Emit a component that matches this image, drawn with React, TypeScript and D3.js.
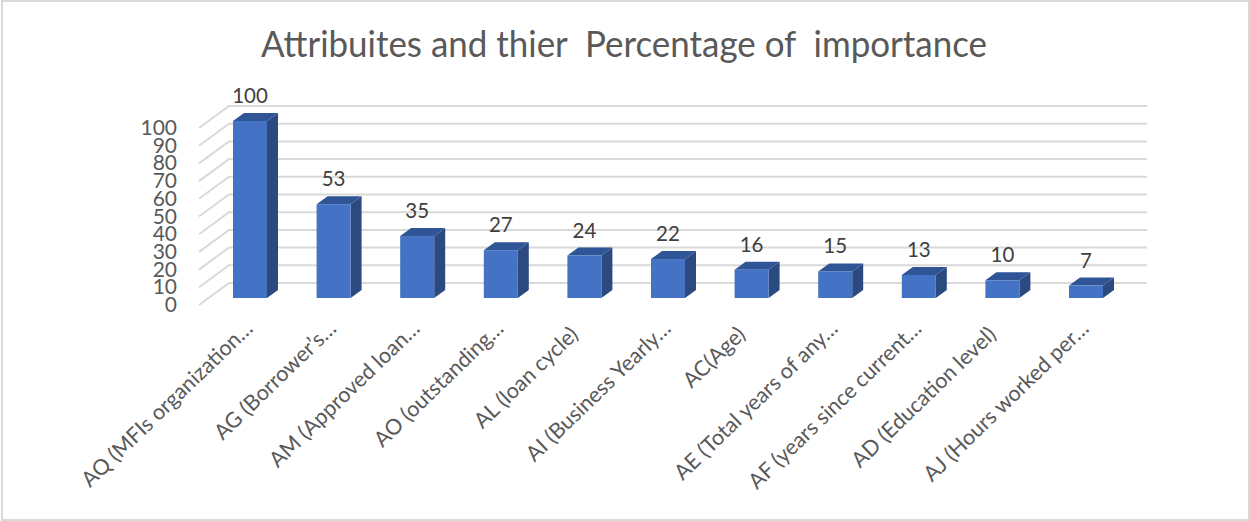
import React from "react";
import * as d3 from "d3";

const categories = [
  "AQ (MFIs organization…",
  "AG (Borrower’s…",
  "AM (Approved loan…",
  "AO (outstanding…",
  "AL (loan cycle)",
  "AI (Business Yearly…",
  "AC(Age)",
  "AE (Total years of any…",
  "AF (years since current…",
  "AD (Education level)",
  "AJ (Hours worked per…",
];
const importance = [100, 53, 35, 27, 24, 22, 16, 15, 13, 10, 7];
const yTicks = [0, 10, 20, 30, 40, 50, 60, 70, 80, 90, 100];
const chartTitle = "Attribuites and thier  Percentage of  importance";

const FONT = "Lato, 'Open Sans', sans-serif";
const TEXT = "#595959";

export default function App() {
  // Front edge of the floor and the depth offset of the back wall.
  const y = d3.scaleLinear().domain([0, 100]).range([305, 128]);
  const wallDx = 30;
  const wallDy = -22;
  const wallLeft = 199;
  const wallRight = 1147;

  // Bars stand inside the floor, so their base sits behind the axis front.
  const x = d3.scalePoint<string>().domain(categories).range([250, 1086]);
  const barW = 34;
  const baseOffset = -7;
  const barDx = 11;
  const barDy = -8;

  return (
    <svg
      width={1250}
      height={521}
      style={{ position: "absolute", left: 0, top: 0, background: "#fff" }}
      fontFamily={FONT}
    >
      <rect x={2} y={1} width={1247} height={519} fill="#fff" stroke="#d9d9d9" strokeWidth={2} />
      <text
        x={624}
        y={57}
        textAnchor="middle"
        fontSize={36}
        fill={TEXT}
        xmlSpace="preserve"
        textLength={726}
        lengthAdjust="spacingAndGlyphs"
      >
        {chartTitle}
      </text>

      {yTicks.map((t) => (
        <polyline
          key={t}
          points={`${wallLeft},${y(t)} ${wallLeft + wallDx},${y(t) + wallDy} ${wallRight},${y(t) + wallDy}`}
          stroke="#d9d9d9"
          strokeWidth={2}
          fill="none"
        />
      ))}
      {yTicks.map((t) => (
        <text key={t} x={177} y={y(t) + 7} textAnchor="end" fontSize={21} fill={TEXT}>
          {t}
        </text>
      ))}

      {categories.map((c, i) => {
        const cx = x(c) as number;
        const x0 = cx - barW / 2;
        const x1 = cx + barW / 2;
        const base = y(0) + baseOffset;
        const top = y(importance[i]) + baseOffset;
        // Shortened labels end on the ellipsis, which sits lower than a closing bracket.
        const shortened = c.endsWith("…");
        const labelX = shortened ? cx + 4 : cx - 5;
        const labelY = shortened ? 330 : 336;
        return (
          <g key={c}>
            <path
              d={`M${x1},${top}L${x1 + barDx},${top + barDy}L${x1 + barDx},${base + barDy}L${x1},${base}Z`}
              fill="#2a4a80"
            />
            <path
              d={`M${x0},${top}L${x0 + barDx},${top + barDy}L${x1 + barDx},${top + barDy}L${x1},${top}Z`}
              fill="#2f5597"
            />
            <rect x={x0} y={top} width={barW} height={base - top} fill="#4472c4" />
            <text x={cx} y={top - 18} textAnchor="middle" fontSize={20.5} fill="#404040">
              {importance[i]}
            </text>
            <text
              transform={`translate(${labelX},${labelY}) rotate(-44)`}
              textAnchor="end"
              fontSize={21.5}
              fill={TEXT}
            >
              {c}
            </text>
          </g>
        );
      })}
    </svg>
  );
}
